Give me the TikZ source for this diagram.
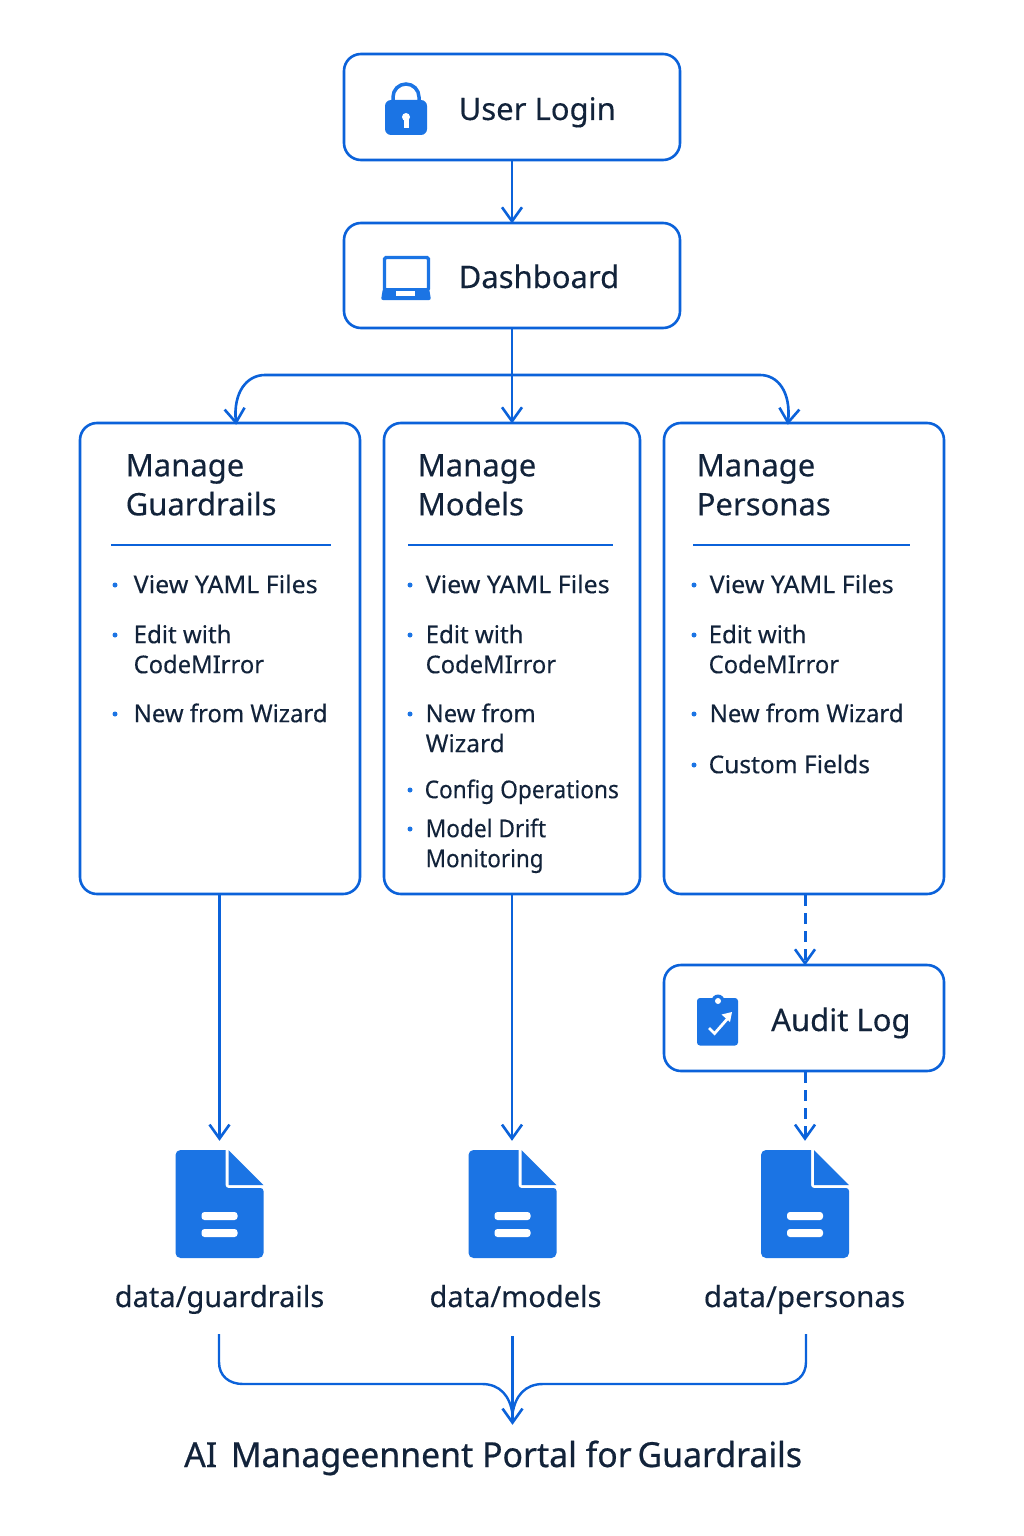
\documentclass[tikz,border=0pt]{standalone}
\usepackage{fontspec}
\setmainfont{Noto Sans}[FakeBold=0.25]
\usetikzlibrary{arrows.meta,calc}
\definecolor{lineblue}{HTML}{0B62DA}
\definecolor{iconblue}{HTML}{1B74E4}
\definecolor{inktext}{HTML}{12233A}
\tikzset{
  x=1pt,y=-1pt,
  box/.style={draw=lineblue,line width=2.6pt,rounded corners=17pt,fill=white,inner sep=0pt},
  conn/.style={draw=lineblue,line width=2.6pt,shorten >=-1.8pt,-{Straight Barb[length=14pt,width=20pt,line width=2.6pt]}},
  merge/.style={draw=lineblue,line width=2.4pt},
  dashconn/.style={conn,line width=3pt,dash pattern=on 11pt off 7pt},
  title/.style={font=\fontsize{31}{38}\selectfont,text=inktext,inner sep=0pt,anchor=base west},
  head/.style={font=\fontsize{31}{39}\selectfont,text=inktext,inner sep=0pt,anchor=north west,align=left},
  itemtext/.style={font=\fontsize{24.5}{30}\selectfont,text=inktext,inner sep=0pt,anchor=north west,align=left},
  dot/.style={circle,fill=iconblue,inner sep=0pt,minimum size=5pt},
  rulerline/.style={draw=lineblue,line width=1.8pt},
  docbox/.style={inner sep=0pt,minimum width=88pt,minimum height=108pt,outer ysep=11pt},
  pathlabel/.style={font=\fontsize{29}{35}\selectfont,text=inktext,inner sep=0pt,anchor=base},
}
\newcommand{\sx}[2]{\scalebox{#1}[1]{#2}}
\newcommand{\docicon}[1]{%
  \begin{scope}[shift={(#1)}]
    \fill[iconblue,rounded corners=5pt] (-44,-54) [sharp corners] -- (6,-54) [rounded corners=3pt] -- (6,-16) -- (44,-16) [rounded corners=5pt] -- (44,54) -- (-44,54) -- cycle;
    \fill[iconblue] (9,-54) -- (44,-19) -- (9,-19) -- cycle;
    \fill[white,rounded corners=3pt] (-18,8) rectangle (18,16);
    \fill[white,rounded corners=3pt] (-18,25) rectangle (18,33);
  \end{scope}}
\newcommand{\bul}[5]{% dot x, text x, baseline y, name, text
  \node[dot] (d#4) at (#1,#3-8) {};
  \node[itemtext] (t#4) at (#2,#3-20) {\rule{0pt}{20pt}#5};}
\begin{document}
\begin{tikzpicture}
\useasboundingbox (0,0) rectangle (1024,1536);
\fill[white] (0,0) rectangle (1024,1536);

% boxes
\node[box,minimum width=336pt,minimum height=106pt] (login) at (512,107) {};
\node[box,minimum width=336pt,minimum height=105pt] (dash) at (512,275.5) {};
\node[box,minimum width=280pt,minimum height=471pt] (guard) at (220,658.5) {};
\node[box,minimum width=256pt,minimum height=471pt] (models) at (512,658.5) {};
\node[box,minimum width=280pt,minimum height=471pt] (personas) at (804,658.5) {};
\node[box,minimum width=280pt,minimum height=106pt] (audit) at (804,1018) {};

% box titles
\node[title] (tLogin) at (458.5,120) {User Login};
\node[title] (tDash) at (458.5,288) {Dashboard};
\node[title] (tAudit) at (771,1031) {Audit Log};

% lock icon
\draw[iconblue,line width=3.5pt] (393,102) -- (393,97) arc[start angle=180,end angle=360,radius=13] -- (419,102);
\fill[iconblue,rounded corners=6pt] (385,100) rectangle (427,135);
\fill[white] (406,117) circle (4pt);
\fill[white] (403.5,117) rectangle (408.5,128);

% laptop icon
\draw[iconblue,line width=3.2pt,rounded corners=1.5pt] (384.5,257.5) rectangle (428.5,290);
\fill[iconblue,rounded corners=2pt] (383,288) -- (429,288) -- (431,300) -- (381,300) -- cycle;
\fill[white] (396,291) rectangle (415,296);

% clipboard icon
\fill[iconblue,rounded corners=3pt] (697,998) rectangle (738,1045.5);
\fill[iconblue] (718,1001) circle (6.5pt);
\fill[white] (718,1001) circle (3pt);
\draw[white,line width=2.8pt] (709,1028) -- (714.5,1033.5) -- (729,1017);
\fill[white] (732,1012) -- (721.5,1014.5) -- (730,1022) -- cycle;

% headers
\node[head] (hG) at (125.5,454) {Manage\\Guardrails};
\node[head] (hM) at (417.5,454) {Manage\\Models};
\node[head] (hP) at (696.5,454) {Manage\\Personas};
\coordinate (rG1) at (111,545); \coordinate (rG2) at (331,545);
\coordinate (rM1) at (408,545); \coordinate (rM2) at (613,545);
\coordinate (rP1) at (693,545); \coordinate (rP2) at (910,545);
\draw[rulerline] (rG1) -- (rG2);
\draw[rulerline] (rM1) -- (rM2);
\draw[rulerline] (rP1) -- (rP2);

% lists
\bul{115}{133.5}{593}{ga}{\sx{1.02}{View YAML Files}}
\bul{115}{133.5}{643}{gb}{\sx{0.98}{Edit with}\\\sx{0.97}{CodeMIrror}}
\bul{115}{133.5}{722}{gc}{\sx{0.975}{New from Wizard}}
\bul{410}{425.5}{593}{ma}{\sx{1.02}{View YAML Files}}
\bul{410}{425.5}{643}{mb}{\sx{0.98}{Edit with}\\\sx{0.97}{CodeMIrror}}
\bul{410}{425.5}{722}{mc}{\sx{0.97}{New from}\\Wizard}
\bul{410}{424.5}{798}{md}{\sx{0.925}{Config Operations}}
\bul{410}{425.5}{837}{me}{\sx{0.925}{Model Drift}\\\sx{0.915}{Monitoring}}
\bul{694}{709.5}{593}{pa}{\sx{1.02}{View YAML Files}}
\bul{694}{708.5}{643}{pb}{\sx{0.98}{Edit with}\\\sx{0.97}{CodeMIrror}}
\bul{694}{709.5}{722}{pc}{\sx{0.975}{New from Wizard}}
\bul{694}{708.5}{773}{pd}{Custom Fields}

% documents
\node[docbox] (docG) at (219.5,1204) {};
\node[docbox] (docM) at (512.5,1204) {};
\node[docbox] (docP) at (805,1204) {};
\docicon{219.5,1204}
\docicon{512.5,1204}
\docicon{805,1204}
\node[pathlabel] (lG) at (219.5,1307) {data/guardrails};
\node[pathlabel] (lM) at (515.5,1307) {data/models};
\node[pathlabel] (lP) at (804.5,1307) {\sx{1.02}{data/personas}};
\node[font=\fontsize{34.5}{40}\selectfont,text=inktext,inner sep=0pt,anchor=base west] (portal) at (184,1467)
  {\addfontfeature{FakeBold=0.6}\sx{0.98}{AI\hspace{5pt} Manageennent Portal for\hspace{-3pt} Guardrails}};

% connectors
\draw[conn] (login) -- (dash);
\coordinate (hub) at (512,375);
\coordinate (inG) at (236,423);
\coordinate (inP) at (788,423);
\draw[conn] (dash) -- (models);
\draw[conn] (hub) -- (265,375) .. controls (247,375) and (233,392) .. (inG);
\draw[conn] (hub) -- (760,375) .. controls (778,375) and (791,392) .. (inP);
\draw[conn] (guard.south -| docG) -- (docG);
\draw[conn] (models) -- (models |- docM.north);
\draw[dashconn] (personas.south -| docP) -- (audit.north -| docP);
\draw[dashconn] (audit.south -| docP) -- (docP.north);

\coordinate (mG) at (219,1334);
\coordinate (mM) at (512.5,1336);
\coordinate (mP) at (806,1334);
\coordinate (mEnd) at (512.5,1423);
\draw[merge] (mG) -- (219,1362) .. controls (219,1376) and (229,1384) .. (243,1384) -- (482,1384) .. controls (500,1384) and (510,1396) .. (512.5,1414);
\draw[merge] (mP) -- (806,1362) .. controls (806,1376) and (796,1384) .. (782,1384) -- (543,1384) .. controls (525,1384) and (515,1396) .. (512.5,1414);
\draw[conn,line width=2.2pt] (mM) -- (mEnd);
\end{tikzpicture}
\end{document}
